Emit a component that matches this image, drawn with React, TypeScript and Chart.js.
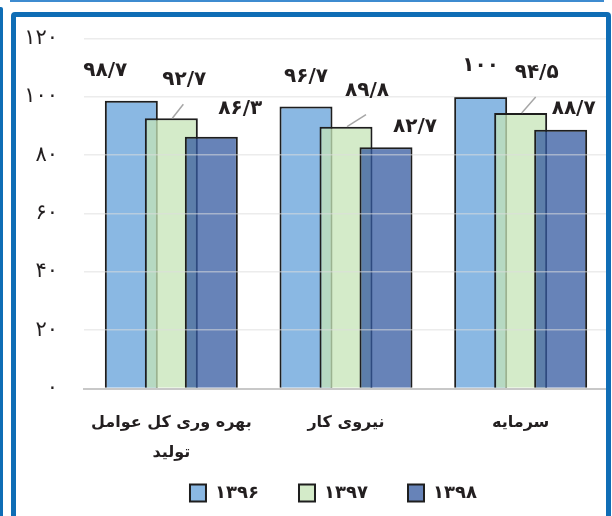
import React, { useEffect, useRef } from "react";
import { Chart, registerables } from "chart.js";

Chart.register(...registerables);

const categories: (string | string[])[] = [["بهره وری کل عوامل", "تولید"], "نیروی کار", "سرمایه"];
const seriesNames = ["۱۳۹۶", "۱۳۹۷", "۱۳۹۸"];
const values1396 = [98.7, 96.7, 100];
const values1397 = [92.7, 89.8, 94.5];
const values1398 = [86.3, 82.7, 88.7];
const yTicks = [0, 20, 40, 60, 80, 100, 120];

// label nudges relative to bar top centre (style only)
const labelNudge = [
  [[-26, -30], [0, -30], [0, -31]],
  [[13, -38], [21, -36], [16, -40]],
  [[29, -28], [29, -21], [13, -21]],
];

const FONT = '"DejaVu Sans", sans-serif';
const faDigits = "۰۱۲۳۴۵۶۷۸۹";
const toFa = (v: number | string) =>
  String(v).replace(".", "/").replace(/[0-9]/g, (d) => faDigits[+d]);

const drawOrderPlugin = {
  id: "drawOrder",
  beforeDatasetsDraw(chart: any) {
    const ctx = chart.ctx;
    for (let i = 0; i < chart.data.datasets.length; i++) {
      const meta = chart.getDatasetMeta(i);
      meta.data.forEach((el: any) => el.draw(ctx));
    }
    return false;
  },
};

const labelPlugin = {
  id: "valueLabels",
  afterDraw(chart: any) {
    const ctx = chart.ctx;
    ctx.save();
    ctx.font = `bold 20px ${FONT}`;
    ctx.fillStyle = "#231f20";
    ctx.textAlign = "center";
    ctx.textBaseline = "middle";
    chart.data.datasets.forEach((ds: any, i: number) => {
      const meta = chart.getDatasetMeta(i);
      meta.data.forEach((el: any, j: number) => {
        const [dx, dy] = labelNudge[i][j];
        const tx = el.x + dx;
        const ty = el.y + dy;
        if (i === 1) {
          ctx.strokeStyle = "#a6a6a6";
          ctx.lineWidth = 1.5;
          ctx.beginPath();
          ctx.moveTo(el.x + 1, el.y);
          ctx.lineTo(tx - 1, ty + 24);
          ctx.stroke();
        }
        ctx.fillText(toFa(ds.data[j]), tx, ty);
      });
    });
    ctx.restore();
  },
};

export default function App() {
  const ref = useRef<HTMLCanvasElement>(null);
  useEffect(() => {
    if (!ref.current) return;
    const chart = new Chart(ref.current, {
      type: "bar",
      data: {
        labels: categories as any,
        datasets: [
          { label: seriesNames[0], data: values1396, backgroundColor: "rgba(99,160,218,0.75)" },
          { label: seriesNames[1], data: values1397, backgroundColor: "rgba(198,228,183,0.75)" },
          { label: seriesNames[2], data: values1398, backgroundColor: "rgba(52,90,160,0.75)" },
        ].map((d) => ({ ...d, borderColor: "#1e1e1e", borderWidth: 2, categoryPercentage: 0.687, barPercentage: 1.325 })),
      },
      options: {
        responsive: false,
        animation: false,
        devicePixelRatio: 1,
        layout: { padding: { left: 0, right: 4, top: 38.5, bottom: 4 } },
        plugins: {
          tooltip: { enabled: false },
          legend: {
            position: "bottom",
            fullSize: false,
            labels: {
              boxWidth: 16,
              boxHeight: 17,
              padding: 15,
              color: "#231f20",
              font: { family: FONT, size: 18, weight: "bold" },
              generateLabels: (c: any) =>
                (Chart.defaults.plugins.legend.labels.generateLabels as any)(c).map((l: any) => ({
                  ...l,
                  text: l.text + "    ",
                })),
            },
          },
        },
        scales: {
          x: {
            grid: { display: false, drawTicks: false },
            border: { display: true, color: "#c8c8c8", width: 2 },
            ticks: {
              padding: 19,
              color: "#231f20",
              font: { family: FONT, size: 16, weight: "bold", lineHeight: 1.875 },
              maxRotation: 0,
              autoSkip: false,
            },
            afterFit: (s: any) => {
              s.height = 80.5;
            },
          },
          y: {
            min: 0,
            max: 120,
            afterBuildTicks: (s: any) => {
              s.ticks = yTicks.map((v) => ({ value: v }));
            },
            ticks: {
              padding: 26,
              color: "#231f20",
              font: { family: FONT, size: 21 },
              callback: (v: any) => toFa(v),
            },
            grid: {
              color: (c: any) => (c.tick && c.tick.value === 0 ? "rgba(0,0,0,0)" : "rgba(220,220,220,0.55)"),
              lineWidth: 1.5,
              drawTicks: false,
              z: 1,
            },
            border: { display: false },
            afterFit: (s: any) => {
              s.width = 84;
            },
          },
        },
      },
      plugins: [drawOrderPlugin, labelPlugin],
    });
    return () => chart.destroy();
  }, []);

  const blue = "#0f6db5";
  return (
    <div style={{ position: "fixed", left: 0, top: 0, width: 612, height: 516, overflow: "hidden", background: "#fff" }}>
      <canvas ref={ref} width={612} height={516} style={{ position: "absolute", left: 0, top: 0, display: "block" }} />
      <div style={{ position: "absolute", left: 10, top: 0, width: 594, height: 2, background: "#3d8bd0" }} />
      <div style={{ position: "absolute", left: 0, top: 7, width: 3, height: 520, background: blue, borderTopRightRadius: 2 }} />
      <div
        style={{
          position: "absolute",
          left: 11,
          top: 12,
          width: 600,
          height: 520,
          border: `5px solid ${blue}`,
          borderRadius: 4,
          boxSizing: "border-box",
          pointerEvents: "none",
        }}
      />
    </div>
  );
}
